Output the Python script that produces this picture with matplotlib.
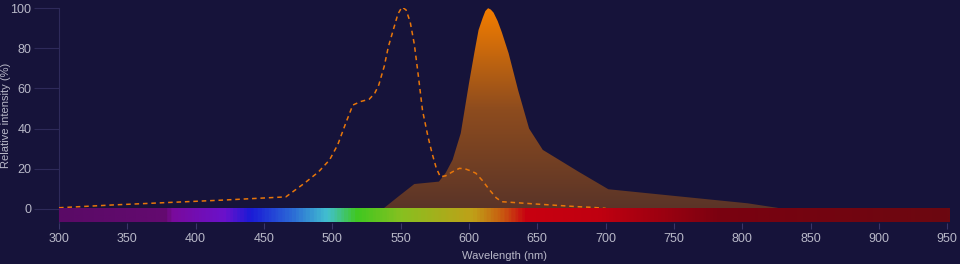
import numpy as np
import matplotlib.pyplot as plt
from matplotlib.colors import LinearSegmentedColormap, to_rgb

plt.rcParams['font.family'] = ['Liberation Sans', 'DejaVu Sans']

# excitation spectrum (dashed)
ex_wl = [300, 340, 380, 420, 466, 472, 480, 490, 498, 504, 510, 515, 521, 527, 531, 534, 538, 541, 545,
         548, 551, 554, 557, 560, 563, 566, 570, 573, 576, 579, 583, 588, 593, 597, 601, 605, 610, 615,
         620, 624, 650, 680, 690, 700]
ex_int = [0.6, 2.0, 3.2, 4.4, 6.0, 9, 13, 18.5, 24.4, 32, 43, 51.7, 53.5, 54.6, 57.5, 61.7, 71, 80.7, 90,
          97, 100.5, 99, 93, 82, 66, 49, 36, 27.7, 20.5, 16, 16.5, 18.5, 20.2, 20, 19, 17.8, 14, 9.5,
          5.5, 3.6, 2.4, 1.1, 0.8, 0.3]

# emission spectrum (filled)
em_wl = [537, 548, 560, 578, 583, 588, 594, 600, 604, 607, 610, 612, 614, 616, 618, 621, 624, 629, 636,
         644, 654, 680, 702, 750, 804, 831]
em_int = [0, 6, 12.4, 13.6, 18, 24.4, 37.7, 62.5, 78, 89, 95, 98.5, 99.9, 99.2, 97.7, 93.5, 88, 77.5, 59,
          40, 29.4, 18.6, 9.8, 6.5, 2.8, 0]

# visible spectrum bar colours
bar_wl = [300, 378, 380, 420, 439, 470, 495, 517, 550, 602, 622, 641, 695, 784, 950]
bar_col = ['#5a0a66', '#640a70', '#7a0a9a', '#6a12cc', '#1a1ad6', '#2c6cd6', '#42c0d0', '#40c820',
           '#88c020', '#c0a018', '#c86010', '#c80010', '#c00010', '#7a0210', '#6c0810']

xticks = list(range(300, 951, 50))
yticks = [0, 20, 40, 60, 80, 100]

bg = '#16133a'
txt = '#b8b8c8'

fig = plt.figure(figsize=(9.6, 2.64), dpi=100, facecolor=bg)
ax = fig.add_axes([59/960, 1-223/264, 891/960, 215/264], facecolor=bg)
ax.set_ylim(-7, 100)

# emission fill with vertical gradient
grad = LinearSegmentedColormap.from_list('g', ['#5a3428', '#8e4c1e', '#f47e00'])
poly = ax.fill_between(em_wl, em_int, 0, color='none', lw=0)
img = ax.imshow(np.linspace(0, 1, 256).reshape(-1, 1), cmap=grad, aspect='auto',
                extent=[300, 950, 0, 100], origin='lower', zorder=2)
img.set_clip_path(poly.get_paths()[0], transform=ax.transData)

# excitation dashed line
ax.plot(ex_wl, ex_int, color='#e8760a', lw=1.1, ls=(0, (3, 2.5)), zorder=4)

# spectrum bar
pos = [(w - 300) / 650 for w in bar_wl]
scmap = LinearSegmentedColormap.from_list('s', list(zip(pos, [to_rgb(c) for c in bar_col])))
ax.imshow(np.linspace(0, 1, 650).reshape(1, -1), cmap=scmap, aspect='auto',
          extent=[300, 951.5, -6.5, 0.3], zorder=5)
ax.set_xlim(300, 952)

for s in ['top', 'right', 'bottom']:
    ax.spines[s].set_visible(False)
ax.spines['left'].set_color('#2e2a5a')
ax.set_xticks(xticks)
ax.set_yticks(yticks)
ax.tick_params(axis='x', colors='#3a3668', length=4, labelcolor=txt, labelsize=9, pad=3)
ax.tick_params(axis='y', colors='#2e2a5a', length=18, labelcolor=txt, labelsize=9, pad=2)
fig.text(505/960, 1-256/264, 'Wavelength (nm)', color=txt, fontsize=8, ha='center', va='center')
fig.text(6/960, 1-115/264, 'Relative intensity (%)', color=txt, fontsize=8, ha='center', va='center',
         rotation=90)

fig.savefig('out.png', dpi=100, facecolor=bg)
